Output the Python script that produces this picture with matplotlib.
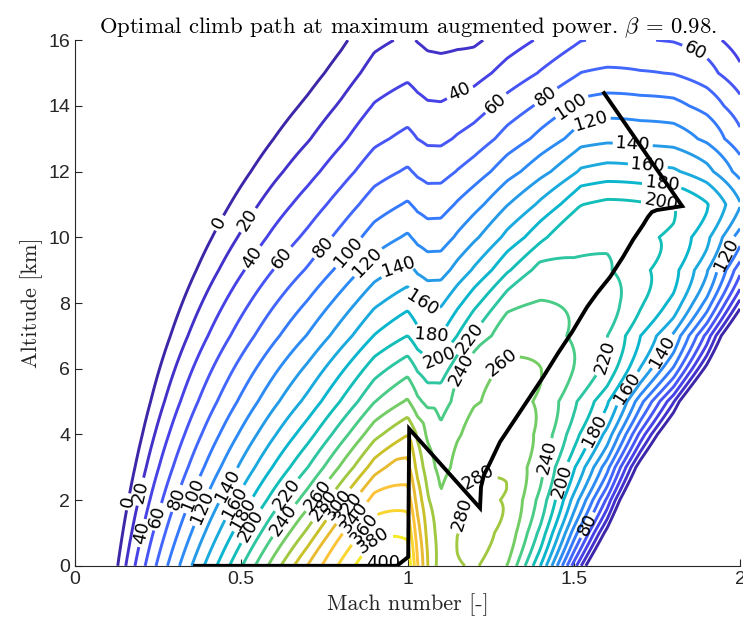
import numpy as np
import matplotlib
matplotlib.use('Agg')
import matplotlib.pyplot as plt
from matplotlib.colors import LinearSegmentedColormap

# ---------------- values ----------------
levels = list(range(0, 401, 20))            # contour levels of specific excess power [m/s]
xticks = [0, 0.5, 1, 1.5, 2]
xticklabels = ['0', '0.5', '1', '1.5', '2']
yticks = [0, 2, 4, 6, 8, 10, 12, 14, 16]

# optimal climb path (Mach, altitude km)
path_mach = [0.361, 0.968, 1.002, 1.005, 1.218, 1.221, 1.230, 1.248, 1.278, 1.368,
             1.408, 1.453, 1.495, 1.540, 1.570, 1.609, 1.648, 1.678, 1.708, 1.723,
             1.735, 1.750, 1.826, 1.591]
path_alt = [0.0, 0.0, 0.27, 4.17, 1.76, 2.40, 2.77, 3.13, 3.77, 5.14,
            5.75, 6.48, 7.12, 7.88, 8.30, 8.79, 9.40, 9.92, 10.37, 10.62,
            10.77, 10.83, 10.95, 14.39]

# points read on the contour lines: (Mach, altitude km, Ps m/s[, weight])
obs_points = [
    # Ps = 0 boundary, low-speed side
    (0.123, 0, 0), (0.16, 2.0, 0), (0.205, 4.05, 0), (0.247, 5.6, 0), (0.415, 10.0, 0),
    (0.441, 10.4, 0), (0.571, 12.65, 0), (0.767, 15.18, 0), (0.82, 16, 0),
    # sea level, subsonic side
    (0.152, 0, 20), (0.187, 0, 40), (0.215, 0, 60), (0.248, 0, 80), (0.282, 0, 100),
    (0.318, 0, 120), (0.352, 0, 140), (0.388, 0, 160), (0.425, 0, 180), (0.463, 0, 200),
    (0.502, 0, 220), (0.542, 0, 240), (0.582, 0, 260), (0.622, 0, 280), (0.662, 0, 300),
    (0.705, 0, 320), (0.75, 0, 340), (0.795, 0, 360), (0.845, 0, 380), (0.905, 0, 400),
    # low-altitude arcs
    (0.2, 2.25, 20), (0.2, 1.0, 40), (0.246, 1.5, 60), (0.3, 2.07, 80), (0.345, 2.2, 100),
    (0.376, 1.8, 120), (0.457, 2.46, 140), (0.475, 1.95, 160), (0.502, 1.6, 180),
    (0.532, 1.2, 200), (0.638, 2.15, 220), (0.626, 1.4, 240), (0.716, 2.25, 260),
    (0.788, 1.9, 300),
    # mid-altitude arcs
    (0.521, 10.52, 20), (0.526, 9.43, 40), (0.605, 9.52, 60), (0.727, 9.86, 80),
    (0.802, 9.71, 100), (0.867, 9.36, 120),
    # transonic peak (M = 1) and dip (M = 1.06)
    (0.92, 8.85, 140), (0.987, 8.88, 140), (1.08, 8.5, 140),
    (0.917, 9.8, 120), (1.0, 10.2, 120, 2), (1.03, 9.8, 120), (1.06, 9.4, 120, 2),
    (1.15, 10.0, 120), (1.28, 10.8, 120),
    (0.85, 10.2, 100), (1.0, 11.07, 100, 2), (1.03, 10.75, 100), (1.06, 10.46, 100, 2),
    (1.23, 11.5, 100),
    (1.0, 12.2, 80, 2), (1.03, 11.9, 80), (1.06, 11.65, 80, 2),
    (0.767, 11.8, 40), (0.9, 14.4, 40), (1.0, 14.7, 40, 2), (1.03, 14.5, 40),
    (1.06, 14.3, 40, 2), (1.2, 15.0, 40), (1.34, 16, 40), (1.149, 14.63, 40),
    (0.767, 12.96, 20), (0.9, 15.5, 20), (0.99, 16, 20), (1.03, 15.9, 20),
    (1.06, 15.8, 20), (1.11, 16, 20),
    (1.257, 14.17, 60), (1.55, 16, 60),
    (1.033, 7.89, 160), (1.073, 6.93, 180), (1.098, 6.17, 200), (1.218, 6.67, 220),
    (1.213, 5.66, 240), (1.318, 5.9, 260),
    # closed loops around the climb path
    (1.38, 6.1, 260, 2), (1.41, 5.5, 260, 1.5), (1.5, 8.0, 240, 2), (1.4, 7.3, 240, 1.5),
    (1.54, 6.0, 240, 1.5), (1.55, 7.0, 240, 1.5), (1.61, 9.7, 220, 2), (1.48, 9.4, 220, 1.5),
    (1.62, 7.8, 220, 1.5), (1.63, 9.0, 220, 1.5), (1.82, 11.0, 200, 2),
    (1.76, 10.77, 200), (1.24, 3.6, 280, 1.5), (1.17, 1.55, 280), (1.21, 2.77, 280),
    (1.272, 2.7, 280, 1.5), (1.158, 0, 280), (1.236, 0, 280, 1.5),
    # sea level, supersonic side
    (1.01, 0, 380), (1.04, 0, 330), (1.07, 0, 300),
    (1.299, 0, 260), (1.329, 0, 240), (1.362, 0, 220), (1.383, 0, 200), (1.398, 0, 180),
    (1.419, 0, 160), (1.435, 0, 140), (1.450, 0, 120), (1.465, 0, 100), (1.480, 0, 80),
    (1.495, 0, 60), (1.507, 0, 40), (1.519, 0, 20), (1.528, 0, 0),
    # high-speed side
    (1.453, 2.62, 200), (1.42, 3.29, 240), (1.558, 4.14, 180), (1.655, 5.4, 160),
    (1.759, 6.57, 140), (1.588, 6.36, 220), (1.949, 9.52, 120), (1.87, 5.66, 0), (2.0, 7.8, 0),
    # upper right
    (1.419, 14.23, 80), (1.498, 13.93, 100), (1.555, 13.35, 120), (1.678, 12.9, 140),
    (1.723, 12.26, 160), (1.765, 11.59, 180), (1.859, 15.54, 60), (1.78, 16, 60),
    (1.94, 16, 40), (1.65, 15.0, 80), (1.65, 14.3, 100), (1.68, 13.7, 120),
]
obs_mach = np.array([p[0] for p in obs_points])
obs_alt = np.array([p[1] for p in obs_points], dtype=float)
obs_ps = np.array([p[2] for p in obs_points], dtype=float)
obs_w = np.array([p[3] if len(p) > 3 else 1.0 for p in obs_points], dtype=float)

# contour label anchor points (Mach, km) per level, as placed in the chart
label_at = {
    0: [(0.159, 1.95), (0.441, 10.4)],
    20: [(0.20, 2.25), (0.521, 10.52)],
    40: [(0.20, 1.0), (0.526, 9.43), (1.149, 14.63)],
    60: [(0.246, 1.5), (0.605, 9.52), (1.257, 14.17), (1.859, 15.54)],
    80: [(0.30, 2.07), (0.727, 9.86), (1.42, 14.23), (1.51, 1.4)],
    100: [(0.345, 2.2), (0.802, 9.71), (1.498, 13.93)],
    120: [(0.376, 1.8), (0.867, 9.36), (1.555, 13.35), (1.949, 9.52)],
    140: [(0.457, 2.46), (0.987, 8.88), (1.678, 12.9), (1.76, 6.57)],
    160: [(0.475, 1.95), (1.033, 7.89), (1.723, 12.26), (1.66, 5.4)],
    180: [(0.502, 1.6), (1.073, 6.93), (1.765, 11.59), (1.558, 4.14)],
    200: [(0.532, 1.2), (1.098, 6.17), (1.76, 10.77), (1.453, 2.62)],
    220: [(0.638, 2.15), (1.218, 6.67), (1.59, 6.36)],
    240: [(0.626, 1.4), (1.213, 5.66), (1.42, 3.29)],
    260: [(0.716, 2.25), (1.318, 5.9)],
    280: [(0.76, 1.75), (1.17, 1.55), (1.21, 2.77)],
    300: [(0.788, 1.9)],
    320: [(0.83, 1.7)],
    340: [(0.85, 1.4)],
    360: [(0.865, 1.15)],
    380: [(0.88, 0.95)],
    400: [(0.917, 0.85)],
}

# ---------------- parula colormap ----------------
parula_anchor = [
    (0.2422, 0.1504, 0.6603), (0.2647, 0.1978, 0.7952), (0.2783, 0.2559, 0.8991),
    (0.2810, 0.3228, 0.9579), (0.2699, 0.3892, 0.9906), (0.2206, 0.4603, 0.9973),
    (0.1786, 0.5289, 0.9682), (0.1540, 0.5902, 0.9218), (0.1248, 0.6459, 0.8883),
    (0.0689, 0.6948, 0.8394), (0.0067, 0.7312, 0.7660), (0.1408, 0.7584, 0.6842),
    (0.2161, 0.7843, 0.5923), (0.3406, 0.8008, 0.4789), (0.5044, 0.7993, 0.3480),
    (0.6720, 0.7793, 0.2227), (0.8203, 0.7498, 0.1535), (0.9393, 0.7288, 0.2100),
    (0.9970, 0.7659, 0.2199), (0.9786, 0.8386, 0.1766), (0.9597, 0.9135, 0.1423),
    (0.9769, 0.9839, 0.0805)]
parula = LinearSegmentedColormap.from_list('parula', parula_anchor)


# ---------------- energy-state model fitted to the read points ----------------
def atmosphere(h):
    theta = np.where(h < 11, 1 - 0.0225577 * h, 0.75187)
    delta = np.where(h < 11, theta ** 5.25588, 0.22336 * np.exp(-(h - 11) / 6.3416))
    return theta, delta


def hat(x, nodes):
    x = np.clip(np.asarray(x, float), nodes[0], nodes[-1])
    idx = np.clip(np.searchsorted(nodes, x, side='right') - 1, 0, len(nodes) - 2)
    t = (x - nodes[idx]) / (nodes[idx + 1] - nodes[idx])
    W = np.zeros((x.size, len(nodes)))
    W[np.arange(x.size), idx] = 1 - t
    W[np.arange(x.size), idx + 1] += t
    return W


def second_diff(n):
    D = np.zeros((n - 2, n))
    for i in range(n - 2):
        D[i, i:i + 3] = [1, -2, 1]
    return D


h_nodes = np.arange(0.0, 16.01, 1.0)
m_nodes = np.array([0.0, 0.2, 0.4, 0.6, 0.7, 0.8, 0.9, 1.0, 1.03, 1.06, 1.1,
                    1.15, 1.2, 1.3, 1.4, 1.5, 1.6, 1.7, 1.8, 1.9, 2.0])
sharp_nodes = [7, 8, 9]          # M = 1.0, 1.03, 1.06 may bend sharply


def pieces(Mx, Hx, bgain, tbreak):
    theta, delta = atmosphere(Hx)
    V = 340.294 * np.sqrt(theta) * Mx
    q = 70927.5 * delta * Mx ** 2
    ram = 1 + 0.2 * Mx ** 2
    th0 = theta * ram
    RB = ram ** 3.5 * (1 - bgain * np.clip(th0 - tbreak, 0, None) / th0)
    return V, q, RB


def design(Mx, Hx, bgain, tbreak):
    V, q, RB = pieces(Mx, Hx, bgain, tbreak)
    Wh = hat(Hx, h_nodes)
    Wm = hat(Mx, m_nodes)
    return np.hstack([(V * RB)[:, None] * Wh,
                      -(V * q * 1e-5)[:, None] * Wm,
                      -(V / q * 1e3)[:, None] * Wm])


nh, nm = len(h_nodes), len(m_nodes)
Dl = second_diff(nh) * 400.0
Dc = second_diff(nm) * 25.0
Da = second_diff(nm) * 25.0
for k in sharp_nodes:
    Dc[k - 1] *= 0.12
    Da[k - 1] *= 0.12
for k in range(13, nm - 1):       # keep the supersonic part smooth
    Dc[k - 1] *= 5.0
    Da[k - 1] *= 5.0
blk = np.zeros((Dl.shape[0] + Dc.shape[0] + Da.shape[0], nh + 2 * nm))
blk[:Dl.shape[0], :nh] = Dl
blk[Dl.shape[0]:Dl.shape[0] + Dc.shape[0], nh:nh + nm] = Dc
blk[Dl.shape[0] + Dc.shape[0]:, nh + nm:] = Da
prior = np.eye(nh + 2 * nm) * 2.0
_, dn = atmosphere(h_nodes)
prior_val = np.concatenate([1.265 * dn ** 0.85, np.full(nm, 1.2), np.full(nm, 1.4)])

best = None
for bgain in [0.6, 0.9, 1.2, 1.5, 1.8]:
    for tbreak in [1.0, 1.05, 1.1]:
        X = design(obs_mach, obs_alt, bgain, tbreak)
        XA = np.vstack([X * obs_w[:, None], blk, prior])
        yA = np.concatenate([obs_ps * obs_w, np.zeros(blk.shape[0]), prior @ prior_val])
        p, *_ = np.linalg.lstsq(XA, yA, rcond=None)
        err = np.sum(((X @ p - obs_ps) * obs_w) ** 2)
        if best is None or err < best[0]:
            best = (err, bgain, tbreak, p)
_, bgain, tbreak, p = best

M = np.linspace(0.02, 2.0, 497)
H = np.linspace(0.0, 16.0, 401)
MM, HH = np.meshgrid(M, H)
lam = np.interp(HH, h_nodes, p[:nh])
cc = np.interp(MM, m_nodes, p[nh:nh + nm]) * 1e-5
AA = np.interp(MM, m_nodes, p[nh + nm:]) * 1e3
V, q, RB = pieces(MM, HH, bgain, tbreak)
Ps = V * (lam * RB - q * cc - AA / q)

# ---------------- plot ----------------
plt.rcParams['mathtext.fontset'] = 'cm'
fig = plt.figure(figsize=(7.43, 6.28), dpi=100)
ax = fig.add_axes([0.101, 0.099, 0.895, 0.837])
ax.set_xlim(0, 2)
ax.set_ylim(0, 16)

for lev in levels:
    cs = ax.contour(MM, HH, Ps, levels=[lev], colors=[parula(lev / 400)], linewidths=2.1)
    pts = label_at.get(lev, [])
    if pts and len(cs.allsegs[0]) > 0:
        try:
            ax.clabel(cs, manual=pts, fmt='%d', inline=True, inline_spacing=3,
                      fontsize=13, colors='black')
        except Exception:
            pass
ax.plot(path_mach, path_alt, color='black', linewidth=2.8, solid_joinstyle='miter')

ax.set_xticks(xticks)
ax.set_xticklabels(xticklabels)
ax.set_yticks(yticks)
for s in ['top', 'right']:
    ax.spines[s].set_visible(False)
for s in ['left', 'bottom']:
    ax.spines[s].set_color('#262626')
ax.tick_params(direction='in', labelsize=14, colors='#262626', length=5,
               labelfontfamily='Liberation Sans')
ax.set_xlabel('Mach number [-]', family='cmr10', fontsize=16, color='#262626')
ax.set_ylabel('Altitude [km]', family='cmr10', fontsize=16, color='#262626')
ax.set_title(r'Optimal climb path at maximum augmented power. $\beta$ = 0.98.',
             family='cmr10', fontsize=16.3, color='black', pad=5)

fig.savefig('out.png', dpi=100)
